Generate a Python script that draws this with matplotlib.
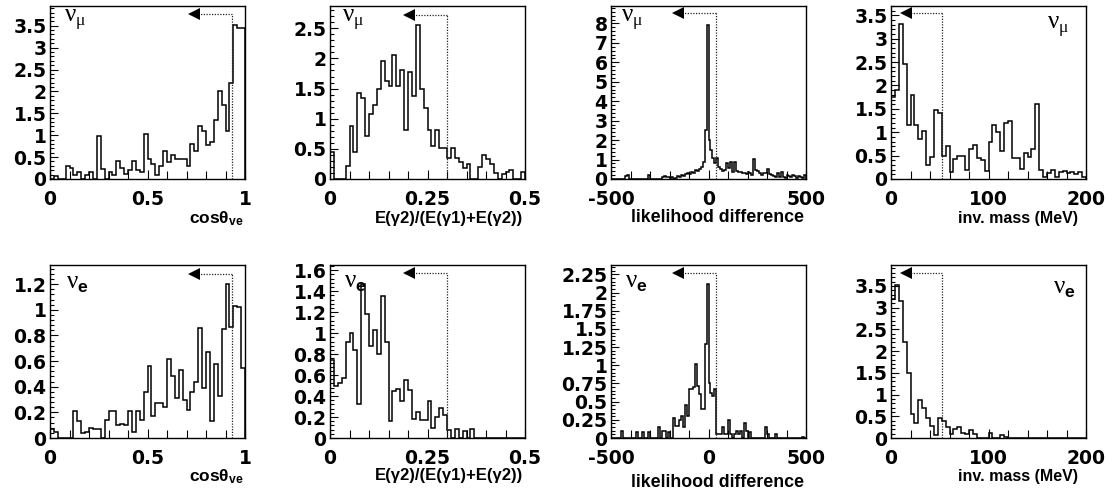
import matplotlib
matplotlib.use('Agg')
import matplotlib.pyplot as plt
import numpy as np
from matplotlib.ticker import MultipleLocator, FuncFormatter
from matplotlib.transforms import blended_transform_factory, offset_copy

plt.rcParams['axes.unicode_minus'] = False
plt.rcParams['font.family'] = 'DejaVu Sans'
plt.rcParams['mathtext.fontset'] = 'custom'
plt.rcParams['mathtext.rm'] = 'Liberation Sans:bold'
plt.rcParams['mathtext.it'] = 'Liberation Sans:bold'
plt.rcParams['mathtext.bf'] = 'Liberation Sans:bold'

# bin contents, top row = nu_mu, bottom row = nu_e
cos_mu = [0.0, 0.07, 0.0, 0.0, 0.30, 0.25, 0.08, 0.17, 0.0, 0.08,
          0.16, 0.0, 0.98, 0.23, 0.0, 0.15, 0.10, 0.42, 0.25, 0.12,
          0.20, 0.42, 0.20, 0.15, 1.02, 0.45, 0.35, 0.08, 0.30, 0.65,
          0.38, 0.55, 0.45, 0.45, 0.45, 0.30, 0.80, 0.65, 1.20, 1.10,
          0.78, 0.85, 1.35, 2.00, 1.70, 1.10, 2.20, 3.52, 3.45, 3.45]
frac_mu = [0.45, 0.0, 0.0, 0.0, 0.22, 0.88, 0.45, 1.42, 1.35, 0.72,
           1.08, 1.22, 1.50, 1.95, 1.62, 1.55, 2.05, 1.55, 1.80, 0.82,
           1.78, 1.38, 2.55, 1.50, 1.18, 0.82, 0.55, 0.82, 0.52, 0.52,
           0.35, 0.52, 0.35, 0.28, 0.18, 0.25, 0.0, 0.0, 0.20, 0.40,
           0.33, 0.25, 0.10, 0.0, 0.08, 0.12, 0.15, 0.0, 0.0, 0.12]
like_mu = [0, 0, 0, 0, 0, 0, 0, 0.15, 0.2, 0,
           0, 0, 0, 0, 0, 0, 0, 0, 0, 0.2,
           0, 0, 0, 0, 0, 0, 0.1, 0.15, 0.1, 0.12,
           0, 0.1, 0, 0.05, 0.15, 0.1, 0.2, 0.15, 0.25, 0.3,
           0.25, 0.35, 0.3, 0.45, 0.4, 0.5, 0.6, 0.9, 2.5, 7.9,
           2.0, 1.5, 1.1, 0.8, 1.1, 0.6, 0.5, 0.4, 0.45, 0.8,
           0.55, 0.9, 0.35, 0.85, 0.4, 0.35, 0.35, 0.3, 0.3, 0.25,
           0.35, 0.3, 0.2, 1.05, 0.45, 0.4, 0.3, 0.2, 0.3, 0.3,
           0.5, 0.25, 0.2, 0.15, 0.1, 0.3, 0.1, 0.35, 0.1, 0.05,
           0.2, 0.15, 0.1, 0.2, 0.15, 0.05, 0.15, 0.1, 0.05, 0.2]
mass_mu = [1.75, 1.90, 3.32, 2.45, 1.15, 1.80, 1.15, 0.85, 1.02, 0.30,
           0.48, 1.48, 1.42, 0.50, 0.70, 0.15, 0.42, 0.50, 0.50, 0.20,
           0.65, 0.72, 0.45, 0.40, 0.17, 0.80, 1.15, 1.00, 0.60, 1.20,
           1.25, 0.45, 0.45, 0.22, 0.55, 0.48, 0.65, 1.60, 0.20, 0.05,
           0.12, 0.20, 0.05, 0.15, 0.18, 0.12, 0.15, 0.10, 0.15, 0.05]

cos_e = [0.07, 0.05, 0.0, 0.0, 0.0, 0.0, 0.21, 0.13, 0.04, 0.05,
         0.08, 0.07, 0.07, 0.0, 0.14, 0.21, 0.21, 0.10, 0.11, 0.10,
         0.21, 0.05, 0.21, 0.14, 0.36, 0.56, 0.17, 0.27, 0.27, 0.24,
         0.62, 0.48, 0.31, 0.53, 0.30, 0.22, 0.36, 0.44, 0.86, 0.39,
         0.67, 0.13, 0.58, 0.33, 0.85, 1.20, 0.87, 1.03, 1.02, 0.55]
frac_e = [0.74, 0.50, 0.52, 0.57, 0.92, 1.00, 0.84, 0.32, 1.47, 1.18,
          0.88, 1.03, 0.80, 1.35, 0.92, 0.16, 0.45, 0.47, 0.35, 0.55,
          0.46, 0.18, 0.25, 0.17, 0.17, 0.35, 0.10, 0.20, 0.29, 0.22,
          0.08, 0.0, 0.09, 0.0, 0.07, 0.0, 0.09, 0.0, 0.0, 0.0,
          0.0, 0.0, 0.0, 0.0, 0.0, 0.0, 0.0, 0.0, 0.0, 0.0]
like_e = [0, 0, 0, 0, 0, 0.1, 0, 0, 0, 0,
          0, 0, 0, 0.08, 0, 0, 0.08, 0, 0, 0.08,
          0, 0, 0, 0, 0.15, 0, 0.1, 0.1, 0, 0.08,
          0, 0, 0.28, 0.17, 0.17, 0.25, 0.3, 0.15, 0.45, 0.3,
          0.68, 0.68, 0.7, 1.02, 0.72, 0.6, 0.4, 0.4, 1.3, 2.12,
          0.75, 0.62, 0.58, 0.68, 0.05, 0.05, 0.05, 0.15, 0.05, 0.05,
          0.25, 0.05, 0, 0.05, 0.1, 0.05, 0.1, 0, 0.2, 0.1,
          0, 0.08, 0, 0, 0, 0, 0, 0, 0, 0.15,
          0.05, 0, 0, 0, 0.05, 0, 0, 0, 0, 0,
          0, 0, 0, 0, 0, 0, 0, 0, 0.02, 0]
mass_e = [3.20, 3.52, 3.15, 2.20, 1.50, 0.55, 0.35, 0.88, 0.70, 0.45,
          0.28, 0.08, 0.45, 0.38, 0.25, 0.10, 0.20, 0.25, 0.12, 0.10,
          0.18, 0.10, 0.0, 0.0, 0.0, 0.12, 0.0, 0.0, 0.08, 0.02,
          0.0, 0.0, 0.0, 0.0, 0.0, 0.0, 0.0, 0.0, 0.0, 0.0,
          0.0, 0.0, 0.0, 0.0, 0.0, 0.0, 0.0, 0.0, 0.0, 0.0]

# cut values (vertical dotted line) and where the arrow points to
cuts = [0.935, 0.30, 40, 52]
arrow_tips = [0.71, 0.188, -186, 10]

xlabels = ['cos\u03b8$_{ve}$', 'E(\u03b32)/(E(\u03b31)+E(\u03b32))',
           'likelihood difference', 'inv. mass (MeV)']
xranges = [(0, 1), (0, 0.5), (-500, 500), (0, 200)]
xmajor = [0.5, 0.25, 500, 100]
xminor = [0.1, 0.05, 100, 20]
xlab_x = [0.995, 0.99, 0.99, 0.96]
xlab_size = [12.5, 12, 12.8, 11.5]

fig = plt.figure(figsize=(11.08, 4.92), dpi=100)
W, H = 1108.0, 492.0
lefts = [50, 330, 611, 891]
bottoms = [179, 438]
aw, ah = 195, 173

rows = [
    dict(data=[cos_mu, frac_mu, like_mu, mass_mu], label='\u03bd$_{\\mathregular{\u03bc}}$',
         ymax=[3.95, 2.87, 8.9, 3.7], ymaj=[0.5, 0.5, 1, 0.5], ymin=[0.1, 0.1, 0.2, 0.1],
         arrow_y=[0.954, 0.948, 0.958, 0.958],
         lab_pos=[(0.07, 0.99), (0.06, 0.99), (0.05, 0.99), (0.80, 0.95)],
         xlab_y=[-0.23, -0.23, -0.22, -0.23]),
    dict(data=[cos_e, frac_e, like_e, mass_e], label='\u03bd$_{\\mathbf{e}}$',
         ymax=[1.35, 1.65, 2.38, 3.98], ymaj=[0.2, 0.2, 0.25, 0.5], ymin=[0.04, 0.04, 0.05, 0.1],
         arrow_y=[0.946, 0.955, 0.955, 0.955],
         lab_pos=[(0.08, 0.955), (0.07, 0.96), (0.07, 0.96), (0.83, 0.925)],
         xlab_y=[-0.225, -0.215, -0.26, -0.225]),
]

fmt = FuncFormatter(lambda v, p: '%g' % round(v, 4))

for r, row in enumerate(rows):
    for c in range(4):
        ax = fig.add_axes([lefts[c] / W, (H - bottoms[r]) / H, aw / W, ah / H])
        vals = np.array(row['data'][c], dtype=float)
        x0, x1 = xranges[c]
        edges = np.linspace(x0, x1, len(vals) + 1)
        ax.stairs(vals, edges, color='black', lw=1.1, baseline=0)
        ax.set_xlim(x0, x1)
        ax.set_ylim(0, row['ymax'][c])

        ax.xaxis.set_major_locator(MultipleLocator(xmajor[c]))
        ax.xaxis.set_minor_locator(MultipleLocator(xminor[c]))
        ax.yaxis.set_major_locator(MultipleLocator(row['ymaj'][c]))
        ax.yaxis.set_minor_locator(MultipleLocator(row['ymin'][c]))
        ax.xaxis.set_major_formatter(fmt)
        ax.yaxis.set_major_formatter(fmt)
        ax.tick_params(axis='both', which='both', direction='in', top=False, right=False,
                       width=0.8, color='black')
        ax.tick_params(axis='x', which='major', length=6.5, pad=8)
        ax.tick_params(axis='x', which='minor', length=5.5)
        ax.tick_params(axis='y', which='major', length=6, pad=2.5)
        ax.tick_params(axis='y', which='minor', length=3)
        for lab in ax.get_xticklabels() + ax.get_yticklabels():
            lab.set_fontsize(13.5)
            lab.set_fontweight('bold')
        for sp in ax.spines.values():
            sp.set_linewidth(1.0)

        # cut line with arrow
        trans = blended_transform_factory(ax.transData, ax.transAxes)
        ya = row['arrow_y'][c]
        ytop = ya * row['ymax'][c]
        ax.plot([cuts[c], cuts[c]], [0, ytop], color='#222222', lw=0.9,
                ls=(0, (1, 1.2)))
        ax.plot([cuts[c], arrow_tips[c]], [ya, ya], color='#222222', lw=0.9,
                ls=(0, (1, 1.2)), transform=trans)
        ms = 8
        head_trans = offset_copy(trans, fig=fig, x=ms / 2.0, units='points')
        ax.plot([arrow_tips[c]], [ya], marker='<', ms=ms, color='black', mew=0,
                transform=head_trans, clip_on=False)

        lx, ly = row['lab_pos'][c]
        ax.text(lx, ly, row['label'], transform=ax.transAxes, ha='left', va='top',
                fontsize=18, family='Liberation Serif')

        ax.text(xlab_x[c], row['xlab_y'][c], xlabels[c], transform=ax.transAxes,
                ha='right', va='center', fontsize=xlab_size[c], fontweight='bold',
                family='Liberation Sans')

fig.savefig('out.png', dpi=100)
